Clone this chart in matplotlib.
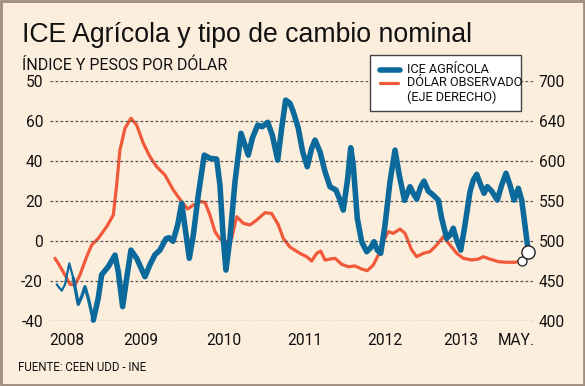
import matplotlib
matplotlib.use("Agg")
import matplotlib.pyplot as plt
from matplotlib.patches import Rectangle
from matplotlib.lines import Line2D

# ---- data (x = months since Jan 2008) ----
ice_month = [0.23, 0.92, 1.37, 1.96, 2.51, 3.19, 3.66, 4.11, 4.56, 5.25, 5.93, 6.40, 7.30, 8.22, 8.67,
             9.27, 9.82, 10.41, 11.19, 12.33, 13.01, 13.70, 14.38, 15.21, 15.62, 16.16, 16.81, 17.36,
             17.90, 18.40, 18.95, 19.63, 20.45, 21.23, 22.15, 22.60, 23.05, 23.42, 23.97, 24.66, 25.48,
             26.03, 26.48, 27.03, 27.77, 28.40, 29.14, 29.77, 30.51, 31.05, 31.60, 32.19, 32.64, 33.33,
             33.93, 34.56, 35.16, 35.62, 36.30, 36.99, 37.67, 38.49, 38.95, 39.49, 40.10, 40.51, 40.86,
             41.41, 42.01, 42.70, 43.25, 43.70, 44.15, 44.62, 45.21, 45.89, 46.58, 47.16, 47.88, 48.63,
             49.08, 49.55, 50.10, 50.55, 51.14, 51.82, 52.51, 52.97, 53.66, 54.11, 54.56, 55.03, 55.58,
             56.16, 56.85, 57.30, 57.77, 58.32, 58.77, 59.22, 59.82, 60.59, 61.19, 61.78, 62.33, 62.88,
             63.47, 63.93, 64.38, 64.84]
ice_values = [-21.8, -25, -22, -11.3, -18.7, -31.8, -28, -23, -28.8, -39.7, -28.7, -17, -13, -7.2, -15.5,
              -33, -18.8, -4.7, -8.8, -18, -12, -7, -4.7, 1.0, 1.5, -0.3, 7.9, 18.7,
              4.5, -8.8, 2.8, 22.8, 42.8, 41.2, 40.8, 27.8, 1.2, -14.7, 1.2, 29.5, 53.7,
              47.8, 42.8, 51.2, 57.8, 57, 59.2, 52.8, 40.3, 56.2, 70.3, 68.7, 64.5, 56.2,
              44.5, 37, 46.2, 50.3, 44.5, 34.5, 27, 25.3, 21.2, 15.3, 31.2, 46.5, 37.8,
              11.2, -0.5, -5.5, -3.5, -0.5, -4.7, -6.3, 7.8, 29.5, 45.3, 32.8, 20.2, 27,
              23.7, 20.8, 27, 29.8, 24.8, 22.8, 20.3, 11.2, 1.2, 2.8, 6.2, 0.3, -4.7,
              7.8, 24.5, 30.3, 33.2, 27.8, 23.7, 27, 24.8, 20.3, 27.8, 33.7, 27.8, 20.3,
              26.2, 20.3, 7.8, -5.7]

usd_month = [0.00, 0.45, 1.37, 2.05, 2.74, 3.42, 4.34, 5.03, 5.93, 7.08, 7.99, 8.45, 8.90, 9.59, 10.41,
             11.19, 12.10, 13.01, 13.93, 15.07, 16.21, 17.36, 18.18, 18.95, 19.86, 20.55, 21.23, 21.92,
             22.60, 23.52, 24.21, 24.89, 25.79, 26.71, 27.63, 28.77, 29.68, 30.59, 31.27, 32.19, 33.56,
             34.48, 35.16, 35.85, 36.40, 36.99, 37.67, 38.36, 39.27, 40.18, 41.10, 42.01, 42.78, 43.60,
             44.29, 44.97, 45.66, 46.34, 47.26, 47.95, 48.86, 49.55, 50.45, 51.37, 52.29, 53.19, 54.11,
             55.03, 55.93, 57.08, 57.99, 58.67, 59.59, 60.73, 61.88, 63.01, 63.93]
usd_values = [478, 471.7, 457.1, 445.5, 444.6, 457.1, 480, 494.6, 503, 517.5, 532, 569.6, 613.4, 640.5, 653,
              644.6, 621.8, 605, 592.5, 582, 563.4, 548.8, 539.6, 544.6, 548.8, 548, 532, 511.3,
              502, 498.8, 503, 530, 521.8, 519.6, 525.9, 535, 534, 520, 503, 492, 484.2,
              480, 474.6, 484.2, 487, 475.9, 477, 478, 470.5, 467.5, 468.4, 464.6, 462.5, 469.6,
              482, 498.8, 511.3, 509.2, 514.6, 509.2, 488.4, 480, 484.2, 486.3, 494.6, 505, 494.6,
              484.2, 478, 475.9, 477, 480, 477, 473.8, 473, 473, 475]

left_ticks = [-40, -20, 0, 20, 40, 60, 80]
left_labels = ["-40", "-20", "0", "20", "40", "60", "50"]
right_ticks = [400, 450, 500, 550, 600, 650, 700]
right_labels = ["400", "450", "500", "550", "600", "640", "700"]
x_tick_pos = [1.64, 11.78, 23.15, 34.25, 45.21, 55.62, 63.15]
x_tick_labels = ["2008", "2009", "2010", "2011", "2012", "2013", "MAY."]

BG = "#FCEEDD"
BLUE = "#0B6A9B"
ORANGE = "#F0593A"
NARROW = ["Roboto", "DejaVu Sans"]

W, H = 585, 386
fig = plt.figure(figsize=(W / 100, H / 100), dpi=100, facecolor=BG)

def fx(px):
    return px / W

def fy(py):
    return 1 - py / H

ax = fig.add_axes([fx(50), fy(320.7), fx(533) - fx(50), (320.7 - 80.7) / H])
ax.set_facecolor("none")
ax2 = ax.twinx()
ax2.set_facecolor("none")

ax.set_xlim(-0.68, 65.48)
ax.set_ylim(-40, 80)
ax2.set_ylim(400, 700)

for a in (ax, ax2):
    for s in a.spines.values():
        s.set_visible(False)

ax.set_yticks(left_ticks)
ax.set_yticklabels(left_labels, fontfamily=NARROW, fontsize=11.2, color="#111")
ax2.set_yticks(right_ticks)
ax2.set_yticklabels(right_labels, fontfamily=NARROW, fontsize=11.2, color="#111")
ax.set_xticks(x_tick_pos)
ax.set_xticklabels(x_tick_labels, fontfamily=NARROW, fontsize=11.2, color="#111")
ax.tick_params(axis="y", length=0, pad=5)
ax2.tick_params(axis="y", length=0, pad=4)
ax.tick_params(axis="x", length=0, pad=9)

ax.grid(axis="y", color="#555555", linestyle=(0, (2.2, 1.8)), linewidth=0.9)
ax.grid(axis="x", visible=False)

# orange series (right axis)
ax2.plot(usd_month, usd_values, color=ORANGE, lw=2.3, solid_capstyle="round",
         solid_joinstyle="round", clip_on=False, zorder=2)
ax2.plot(usd_month[-1], usd_values[-1], "o", ms=6.5, mfc="white", mec="#222", mew=0.9,
         clip_on=False, zorder=5)

# blue series (left axis) on top
ax.set_zorder(ax2.get_zorder() + 1)
ax.plot(ice_month[:5], ice_values[:5], color=BLUE, lw=1.6, solid_capstyle="round",
        solid_joinstyle="round", clip_on=False)
ax.plot(ice_month[4:10], ice_values[4:10], color=BLUE, lw=2.4, solid_capstyle="round",
        solid_joinstyle="round", clip_on=False)
ax.plot(ice_month[9:], ice_values[9:], color=BLUE, lw=4.0, solid_capstyle="round",
        solid_joinstyle="round", clip_on=False)
ax.plot(ice_month[-1], ice_values[-1], "o", ms=9.5, mfc="white", mec="#222", mew=1.0,
        clip_on=False, zorder=5)

# titles
fig.text(fx(22), fy(42), "ICE Agrícola y tipo de cambio nominal", fontsize=19.2,
         family=["Liberation Sans", "DejaVu Sans"], color="#111", va="baseline")
fig.text(fx(22), fy(70), "ÍNDICE Y PESOS POR DÓLAR", fontsize=11.5, family=NARROW,
         color="#111", va="baseline")
fig.text(fx(18), fy(371), "FUENTE: CEEN UDD - INE", fontsize=8.3, family=NARROW,
         color="#111", va="baseline")

# legend box
fig.add_artist(Rectangle((fx(370), fy(111)), fx(521) - fx(370), (111 - 55) / H,
                         transform=fig.transFigure, facecolor="white", edgecolor="#444",
                         linewidth=1.0, zorder=10))
fig.add_artist(Line2D([fx(380), fx(400)], [fy(69.5), fy(69.5)], transform=fig.transFigure,
                      color=BLUE, lw=4.0, solid_capstyle="round", zorder=11))
fig.add_artist(Line2D([fx(380), fx(398)], [fy(83), fy(83)], transform=fig.transFigure,
                      color=ORANGE, lw=2.3, solid_capstyle="round", zorder=11))
fig.text(fx(407), fy(69.5), "ICE AGRÍCOLA", fontsize=9.2, family=NARROW, color="#111",
         va="center", zorder=12)
fig.text(fx(407), fy(83), "DÓLAR OBSERVADO", fontsize=9.2, family=NARROW, color="#111",
         va="center", zorder=12)
fig.text(fx(407), fy(97), "(EJE DERECHO)", fontsize=9.2, family=NARROW, color="#111",
         va="center", zorder=12)

# outer frame
fig.add_artist(Rectangle((0.0015, 0.0025), 0.997, 0.995, transform=fig.transFigure,
                         facecolor="none", edgecolor="#A08C7C", linewidth=2.0, zorder=20))

fig.savefig("out.png", dpi=100, facecolor=BG)
